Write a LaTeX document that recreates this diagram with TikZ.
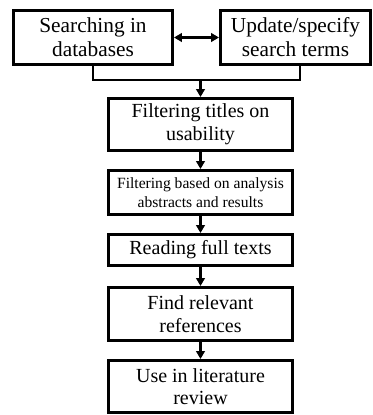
\documentclass[tikz,border=0pt]{standalone}
\usepackage{fontspec}
\setmainfont{Liberation Serif}
\usetikzlibrary{arrows.meta, positioning}

\begin{document}
\begin{tikzpicture}[
    x=0.75pt, y=-0.75pt,
    >={Triangle[length=6pt, width=6.5pt]},
    stage/.style={
        draw, rectangle, line width=2.2pt, align=center, inner sep=0pt,
        minimum width=184*0.75pt, font=\fontsize{15}{17}\selectfont
    },
    bigstage/.style={stage, font=\fontsize{16}{18}\selectfont},
    smallstage/.style={stage, font=\fontsize{11.7}{14}\selectfont},
    line/.style={draw, line width=2.2pt, -},
    arrow/.style={draw, line width=2.2pt, ->},
    twoway/.style={draw, line width=2.2pt, <->}
]

\useasboundingbox (0,0) rectangle (373,415);

% ==========================================
% SEARCH LOOP
% ==========================================

\node[bigstage, minimum width=159*0.75pt, minimum height=54*0.75pt] (Search) at (93, 37.5)
    {Searching in\\databases};
\node[bigstage, minimum width=150*0.75pt, minimum height=54*0.75pt] (Update) at (295.5, 37.5)
    {Update/specify\\search terms};

\draw[twoway] (Search) -- (Update);

\coordinate (Join) at (200.5, 80);
\coordinate (UpdateFoot) at (300, 66);
\draw[line] (Search.south) |- (Join) -| (UpdateFoot);

% ==========================================
% FILTERING STEPS
% ==========================================

\node[stage, minimum height=52*0.75pt] (Titles) at (200.5, 124.5)
    {Filtering titles on\\usability};
\node[smallstage, minimum height=44*0.75pt] (Abstracts) at (200.5, 192.5)
    {Filtering based on analysis\\abstracts and results};
\node[stage, minimum height=31*0.75pt] (FullText) at (200.5, 250)
    {Reading full texts};
\node[stage, minimum height=53*0.75pt] (Refs) at (200.5, 314)
    {Find relevant\\references};
\node[stage, minimum height=52*0.75pt] (Review) at (200.5, 386.5)
    {Use in literature\\review};

\draw[arrow] (Join) -- (Titles);
\draw[arrow] (Titles) -- (Abstracts);
\draw[arrow] (Abstracts) -- (FullText);
\draw[arrow] (FullText) -- (Refs);
\draw[arrow] (Refs) -- (Review);

\end{tikzpicture}
\end{document}
